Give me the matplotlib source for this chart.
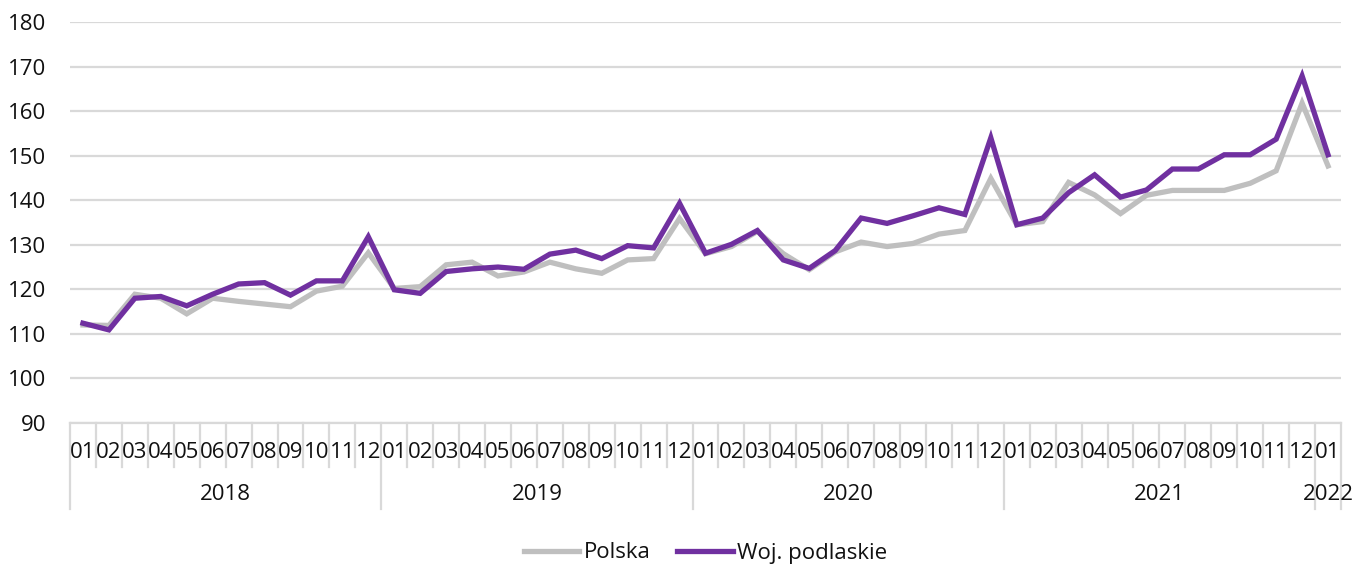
import matplotlib
matplotlib.use("Agg")
import matplotlib.pyplot as plt

months = ["01", "02", "03", "04", "05", "06", "07", "08", "09", "10", "11", "12"] * 4 + ["01"]
years = ["2018", "2019", "2020", "2021", "2022"]

polska = [112.0, 111.9, 118.9, 118.0, 114.5, 118.0, 117.3, 116.7, 116.1, 119.6, 120.7, 128.2,
          120.2, 120.6, 125.5, 126.1, 123.0, 123.9, 126.1, 124.6, 123.6, 126.6, 126.9, 135.9,
          128.0, 129.6, 133.0, 128.0, 124.4, 128.4, 130.6, 129.6, 130.3, 132.4, 133.2, 144.9,
          134.5, 135.2, 144.0, 141.2, 137.0, 141.1, 142.2, 142.2, 142.2, 143.8, 146.6, 161.8,
          147.7]
podlaskie = [112.4, 110.9, 118.0, 118.4, 116.3, 118.9, 121.2, 121.5, 118.7, 121.9, 121.9, 131.8,
             119.9, 119.1, 124.0, 124.6, 125.0, 124.5, 127.9, 128.8, 126.9, 129.8, 129.3, 139.3,
             128.1, 130.1, 133.2, 126.6, 124.7, 128.7, 136.0, 134.8, 136.5, 138.3, 136.8, 154.0,
             134.5, 136.0, 141.7, 145.7, 140.7, 142.3, 147.0, 147.0, 150.2, 150.2, 153.7, 167.9,
             150.2]

plt.rcParams['font.family'] = ['Open Sans', 'DejaVu Sans']
FS = 16
GRID = "#d9d9d9"

W, H = 1365, 569
fig = plt.figure(figsize=(W / 100, H / 100), dpi=100)
left, right, top, bottom = 70, 1341, 22, 423
ax = fig.add_axes([left / W, 1 - bottom / H, (right - left) / W, (bottom - top) / H])
ah = bottom - top

n = len(months)
x = list(range(n))
ax.plot(x, polska, color="#bfbfbf", lw=3.8, solid_joinstyle="miter", label="Polska", zorder=3)
ax.plot(x, podlaskie, color="#7030a0", lw=3.8, solid_joinstyle="miter", label="Woj. podlaskie", zorder=4)

ax.set_xlim(-0.5, n - 0.5)
ax.set_ylim(90, 180)
ax.set_yticks(range(90, 181, 10))
ax.tick_params(axis='y', length=0, pad=17, labelsize=FS, labelcolor="#111111")
ax.set_xticks([])
ax.grid(axis='y', color=GRID, lw=1.6, zorder=0)
for s in ["top", "right", "left"]:
    ax.spines[s].set_visible(False)
ax.spines["bottom"].set_color(GRID)
ax.spines["bottom"].set_linewidth(1.6)

tr = ax.get_xaxis_transform()
short = -44 / ah
long_ = -86 / ah
for i, m in enumerate(months):
    ax.text(i, -29 / ah, m, transform=tr, ha="center", va="center", fontsize=FS, color="#111111")
starts = [i for i, m in enumerate(months) if m == "01"]
bounds = starts + [n]
for i in range(1, n):
    y2 = long_ if i in starts else short
    ax.plot([i - 0.5, i - 0.5], [0, y2], transform=tr, color=GRID, lw=1.6, clip_on=False)
ax.plot([-0.5, -0.5], [0, long_], transform=tr, color=GRID, lw=1.6, clip_on=False)
ax.plot([n - 0.5, n - 0.5], [0, long_], transform=tr, color=GRID, lw=1.6, clip_on=False)
for k, yr in enumerate(years):
    a, b = bounds[k], bounds[k + 1]
    ax.text((a + b - 1) / 2, -71 / ah, yr, transform=tr, ha="center", va="center", fontsize=FS, color="#111111")

leg = ax.legend(loc="center", bbox_to_anchor=(0.5, -130 / ah), ncol=2, frameon=False, fontsize=FS,
                handlelength=2.5, handletextpad=0.2, columnspacing=1.2)
for t in leg.get_texts():
    t.set_color("#111111")

fig.savefig("out.png", dpi=100)
